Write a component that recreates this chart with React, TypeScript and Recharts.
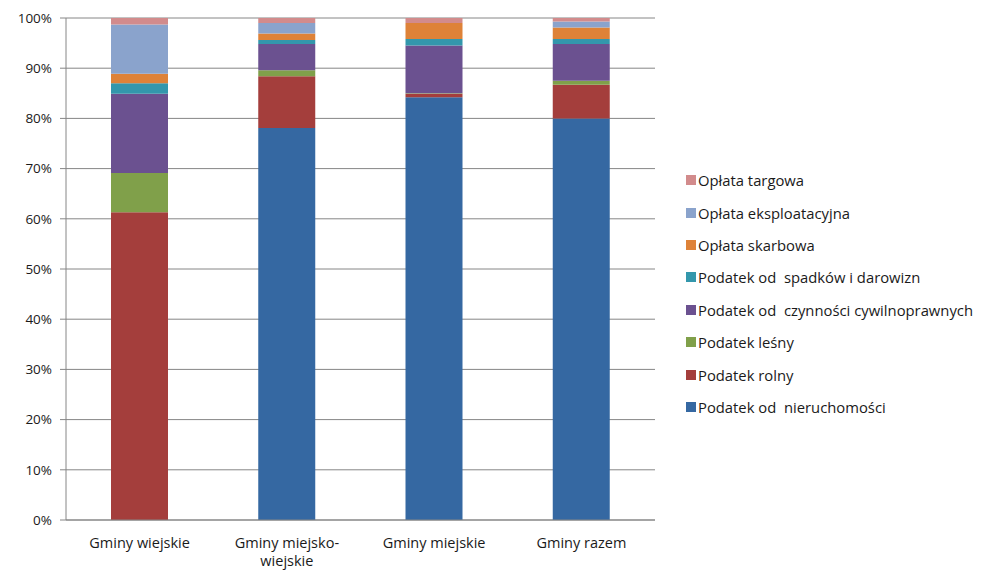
import { Bar, BarChart, CartesianGrid, XAxis, YAxis } from "recharts";

// kategorie (gminy)
const categories = ["Gminy wiejskie", "Gminy miejsko-wiejskie", "Gminy miejskie", "Gminy razem"];

// udział w dochodach z podatków i opłat lokalnych, %
const nieruchomosci = [0, 78.1, 84.2, 80.0];
const rolny = [61.3, 10.3, 0.7, 6.7];
const lesny = [7.8, 1.2, 0.1, 0.8];
const czynnosci = [15.8, 5.2, 9.5, 7.3];
const spadki = [2.1, 0.8, 1.3, 1.0];
const skarbowa = [1.9, 1.3, 3.2, 2.3];
const eksploatacyjna = [9.8, 2.1, 0, 1.2];
const targowa = [1.3, 1.0, 1.0, 0.7];

const yTicks = [0, 0.1, 0.2, 0.3, 0.4, 0.5, 0.6, 0.7, 0.8, 0.9, 1];

const series = [
  { key: "nieruchomosci", name: "Podatek od  nieruchomości", values: nieruchomosci, color: "#3568A2" },
  { key: "rolny", name: "Podatek rolny", values: rolny, color: "#A43E3C" },
  { key: "lesny", name: "Podatek leśny", values: lesny, color: "#80A04A" },
  { key: "czynnosci", name: "Podatek od  czynności cywilnoprawnych", values: czynnosci, color: "#6B5190" },
  { key: "spadki", name: "Podatek od  spadków i darowizn", values: spadki, color: "#3397AC" },
  { key: "skarbowa", name: "Opłata skarbowa", values: skarbowa, color: "#DE8238" },
  { key: "eksploatacyjna", name: "Opłata eksploatacyjna", values: eksploatacyjna, color: "#8AA3CC" },
  { key: "targowa", name: "Opłata targowa", values: targowa, color: "#D28B8C" },
];

const data = categories.map((name, i) => {
  const row: Record<string, string | number> = { name };
  series.forEach((s) => (row[s.key] = s.values[i]));
  return row;
});

const FONT = "'Open Sans', Lato, sans-serif";
const TEXT = "#1a1a1a";
const AXIS = "#868686";

function CategoryTick(props: any) {
  const { x, y, payload } = props;
  const label: string = payload.value;
  const dash = label.indexOf("-");
  const lines = dash >= 0 ? [label.slice(0, dash + 1), label.slice(dash + 1)] : [label];
  return (
    <text x={x} y={y + 20} textAnchor="middle" fill={TEXT} fontSize={14.5} fontFamily={FONT}>
      {lines.map((l, i) => (
        <tspan key={i} x={x} dy={i === 0 ? 0 : 18}>
          {l}
        </tspan>
      ))}
    </text>
  );
}

export default function App() {
  return (
    <div style={{ position: "absolute", left: 0, top: 0, width: 984, height: 571, background: "#fff" }}>
      <BarChart
        width={984}
        height={571}
        data={data}
        stackOffset="expand"
        barSize={57}
        margin={{ top: 18, right: 329, bottom: 0, left: 8 }}
      >
        <CartesianGrid vertical={false} stroke={AXIS} />
        <XAxis
          dataKey="name"
          height={51}
          tick={<CategoryTick />}
          tickLine={false}
          axisLine={{ stroke: AXIS }}
          interval={0}
        />
        <XAxis
          xAxisId="edges"
          type="number"
          domain={[0, 4]}
          ticks={[0, 1, 2, 3, 4]}
          allowDataOverflow
          height={0}
          tick={false}
          tickSize={6}
          tickLine={{ stroke: AXIS }}
          axisLine={false}
        />
        <YAxis
          width={58}
          domain={[0, 1]}
          ticks={yTicks}
          tickFormatter={(v: number) => `${Math.round(v * 100)}%`}
          tick={{ fill: TEXT, fontSize: 13.5, fontFamily: FONT, dx: -6 }}
          tickSize={6}
          tickLine={{ stroke: AXIS }}
          axisLine={{ stroke: AXIS }}
        />
        {series.map((s) => (
          <Bar key={s.key} dataKey={s.key} name={s.name} stackId="a" fill={s.color} isAnimationActive={false} />
        ))}
      </BarChart>
      <div style={{ position: "absolute", left: 686, top: 164, fontFamily: FONT, fontSize: 14.8, color: TEXT }}>
        {[...series].reverse().map((s) => (
          <div key={s.key} style={{ display: "flex", alignItems: "center", height: 32.4, whiteSpace: "pre" }}>
            <span style={{ width: 10, height: 10, background: s.color, marginRight: 2, display: "inline-block" }} />
            {s.name}
          </div>
        ))}
      </div>
    </div>
  );
}
